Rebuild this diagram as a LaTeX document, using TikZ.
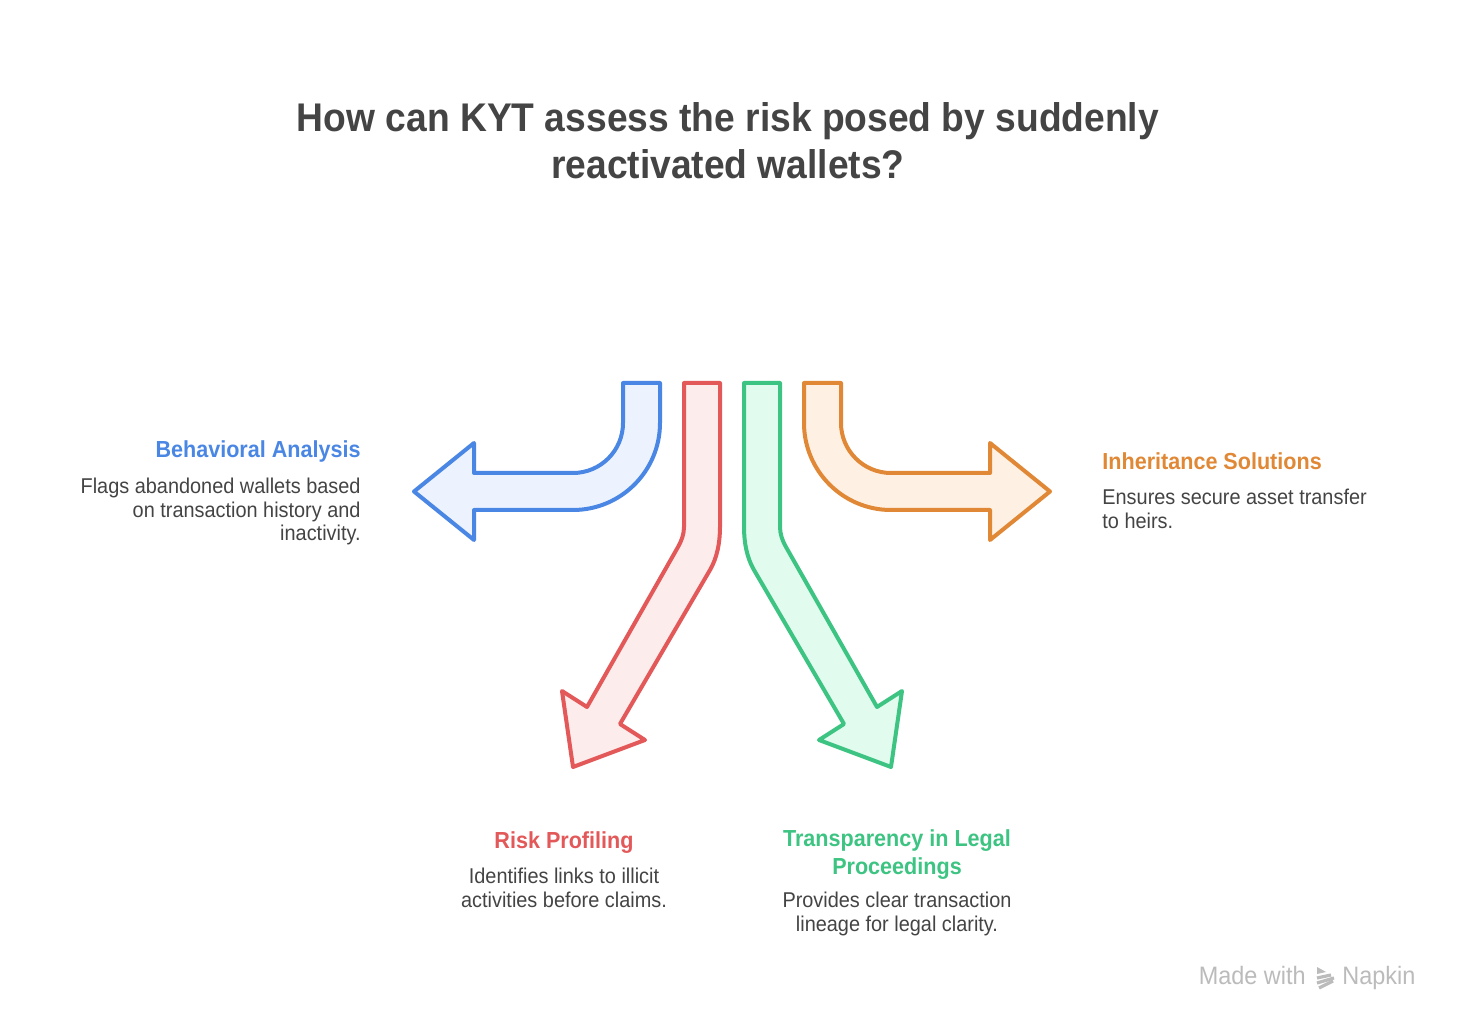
\documentclass[tikz,border=0pt]{standalone}
\usepackage{fontspec}
\setmainfont[FakeStretch=0.93]{Liberation Sans}
\definecolor{bluS}{HTML}{4A87E4}
\definecolor{bluF}{HTML}{EDF3FE}
\definecolor{redS}{HTML}{E35858}
\definecolor{redF}{HTML}{FDECEC}
\definecolor{grnS}{HTML}{3DC482}
\definecolor{grnF}{HTML}{E1FBEE}
\definecolor{orgS}{HTML}{E08835}
\definecolor{orgF}{HTML}{FEF1E4}
\definecolor{txt}{HTML}{444444}
\definecolor{wm}{HTML}{BBBBBB}
\tikzset{
  arr/.style={line width=2pt, line join=round},
  ttl/.style={font=\bfseries\fontsize{20pt}{23.5pt}\selectfont, text=txt, align=center, inner sep=0pt},
  head/.style={font=\bfseries\fontsize{11.6pt}{14pt}\selectfont, inner sep=0pt},
  body/.style={font=\fontsize{10.7pt}{12pt}\selectfont, text=txt, inner sep=0pt},
  wmtext/.style={font=\fontsize{12.6pt}{14pt}\selectfont, text=wm, inner sep=0pt},
}
\begin{document}
\begin{tikzpicture}[x=0.5pt,y=-0.5pt]
\useasboundingbox[fill=white] (0,0) rectangle (1464,1032);

% title (base = last line baseline)
\node[ttl, anchor=base] (title) at (728,179) {How can KYT assess the risk posed by suddenly\\reactivated wallets?};

% blue arrow
\draw[arr, draw=bluS, fill=bluF] (623,383) -- (660,383) -- (660,423)
  .. controls (660,471) and (621,510) .. (573,510) -- (474,510) -- (474,540)
  -- (414,491.5) -- (474,443) -- (474,473) -- (573,473)
  .. controls (600.6,473) and (623,450.6) .. (623,423) -- cycle;

% orange arrow
\draw[arr, draw=orgS, fill=orgF] (841,383) -- (804,383) -- (804,423)
  .. controls (804,471) and (843,510) .. (891,510) -- (990,510) -- (990,540)
  -- (1050,491.5) -- (990,443) -- (990,473) -- (891,473)
  .. controls (863.4,473) and (841,450.6) .. (841,423) -- cycle;

% red arrow
\draw[arr, draw=redS, fill=redF] (684,383) -- (720,383) -- (720,527)
  .. controls (720,543) and (717,558) .. (710,570) -- (620,724) -- (645,740)
  -- (573,767) -- (562,691) -- (587,707) -- (678,547)
  .. controls (681.5,541) and (684,534) .. (684,527) -- cycle;

% green arrow
\draw[arr, draw=grnS, fill=grnF] (780,383) -- (744,383) -- (744,527)
  .. controls (744,543) and (747,558) .. (754,570) -- (844,724) -- (819,740)
  -- (891,767) -- (902,691) -- (877,707) -- (786,547)
  .. controls (782.5,541) and (780,534) .. (780,527) -- cycle;

% labels (base anchor = baseline of last line)
\node[head, text=bluS, anchor=base east] (bh) at (361,458) {Behavioral Analysis};
\node[body, anchor=base east, align=right] (bb) at (361,541) {Flags abandoned wallets based\\on transaction history and\\inactivity.};

\node[head, text=orgS, anchor=base west] (oh) at (1102,470) {Inheritance Solutions};
\node[body, anchor=base west, align=left] (ob) at (1102,529) {Ensures secure asset transfer\\to heirs.};

\node[head, text=redS, anchor=base] (rh) at (564,848) {Risk Profiling};
\node[body, anchor=base, align=center] (rb) at (564,907) {Identifies links to illicit\\activities before claims.};

\node[head, text=grnS, anchor=base, align=center] (gh) at (897,874) {Transparency in Legal\\Proceedings};
\node[body, anchor=base, align=center] (gb) at (897,931) {Provides clear transaction\\lineage for legal clarity.};

% watermark
\node[wmtext, anchor=base east] (mw) at (1306,984) {Made with};
\node[wmtext, anchor=base west] (nk) at (1342,984) {Napkin};
\begin{scope}[line width=1.6pt, draw=wm, line cap=butt]
\fill[wm] (1317,967) -- (1326,972) -- (1317,974) -- cycle;
\draw[wm] (1317,978) -- (1331,975);
\draw[wm] (1317,983) -- (1334,978);
\draw[wm] (1319,988) -- (1333,981);
\end{scope}
\end{tikzpicture}
\end{document}
